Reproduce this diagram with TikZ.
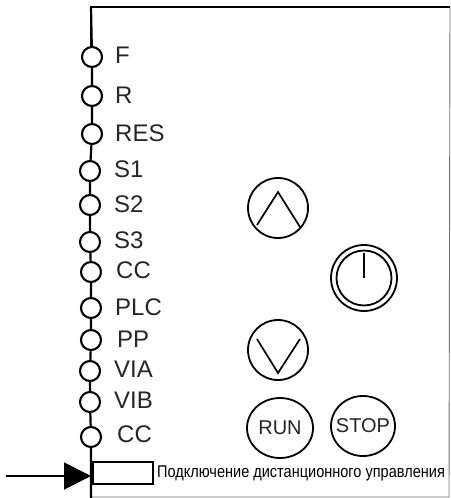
\documentclass[tikz,border=0pt]{standalone}
\usepackage{fontspec}
\setmainfont{Liberation Sans}
\usetikzlibrary{shapes.geometric,arrows.meta}
\tikzset{
  x=1pt,y=-1pt,
  term/.style={circle,draw,line width=2.1pt,fill=white,minimum size=20pt,inner sep=0pt},
  lab/.style={anchor=west,inner sep=0pt,font=\fontsize{24}{24}\selectfont,text=black!85},
  rail/.style={line width=2.2pt},
  btn/.style={circle,draw,line width=1.8pt,minimum size=60pt,inner sep=0pt},
  oval/.style={ellipse,draw,line width=1.8pt,inner sep=0pt},
  ovaltext/.style={inner sep=0pt,font=\fontsize{20}{20}\selectfont,text=black!85},
  chev/.style={line width=1.7pt},
  thin frame/.style={line width=0.9pt,draw=black!55},
}
\begin{document}
\begin{tikzpicture}
\useasboundingbox (0,0) rectangle (450,498);
\fill[white] (0,0) rectangle (450,498);
% frame
\coordinate (tl) at (91,7);
\coordinate (tr) at (450,7);
\coordinate (rb) at (449,497);
\coordinate (bl) at (91,497);
\coordinate (lb) at (91,498);
\draw[thin frame] (tr) -- (rb) -- (bl);
\draw[line width=2.6pt] (tr) -- (tl) -- (91,57);
% terminals
\node[term] (t1) at (92,57) {};
\node[term] (t2) at (92,96) {};
\node[term] (t3) at (92,134) {};
\node[term] (t4) at (90,171) {};
\node[term] (t5) at (90,205) {};
\node[term] (t6) at (90,242) {};
\node[term] (t7) at (91,272) {};
\node[term] (t8) at (91,308) {};
\node[term] (t9) at (91,340) {};
\node[term] (t10) at (90,371) {};
\node[term] (t11) at (90,402) {};
\node[term] (t12) at (91,437) {};
\draw[rail] (tl) -- (t1) (t1) -- (t2) (t2) -- (t3) (t3) -- (t4) (t4) -- (t5) (t5) -- (t6) (t6) -- (t7) (t7) -- (t8) (t8) -- (t9) (t9) -- (t10) (t10) -- (t11) (t11) -- (t12) (t12) -- (lb);
% labels
\node[lab] (l1) at (115,55) {F};
\node[lab] (l2) at (115,95) {R};
\node[lab] (l3) at (115,133) {RES};
\node[lab] (l4) at (114,169) {S1};
\node[lab] (l5) at (114,204) {S2};
\node[lab] (l6) at (114,240) {S3};
\node[lab] (l7) at (116,270) {CC};
\node[lab] (l8) at (115,307) {PLC};
\node[lab] (l9) at (117,339) {PP};
\node[lab] (l10) at (114,369) {VIA};
\node[lab] (l11) at (114,400) {VIB};
\node[lab] (l12) at (117,434) {CC};
% connector box and arrow
\node[draw,line width=2pt,minimum width=60pt,minimum height=22pt,inner sep=0pt,anchor=west] (box) at (92,473) {};
\coordinate (tail) at (6,476);
\draw[line width=2pt,-{Triangle[length=27pt,width=27pt]}] (tail) -- (91,476);
\node[anchor=west,inner sep=0pt,xscale=0.855,font=\fontsize{17}{17}\selectfont] (conn) at (157,473) {Подключение дистанционного управления};
% buttons
\node[btn] (up) at (278,208) {};
\draw[chev] (257,225) -- (278,192) -- (300,227);
\node[btn] (down) at (278,350) {};
\draw[chev] (257,339) -- (278,373) -- (300,339);
\node[circle,draw,line width=1.8pt,minimum size=66pt,inner sep=0pt] (dial) at (364,278) {};
\node[circle,draw,line width=1.8pt,minimum size=55pt,inner sep=0pt] (dialin) at (364,278) {};
\draw[line width=2.6pt] (364,253) -- (dial.center);
\node[oval,minimum width=66pt,minimum height=60pt] (run) at (280,428) {};
\node[ovaltext] (runt) at (280,428) {RUN};
\node[oval,minimum width=64pt,minimum height=60pt] (stop) at (363,426) {};
\node[ovaltext] (stopt) at (363,426) {STOP};
\end{tikzpicture}
\end{document}
